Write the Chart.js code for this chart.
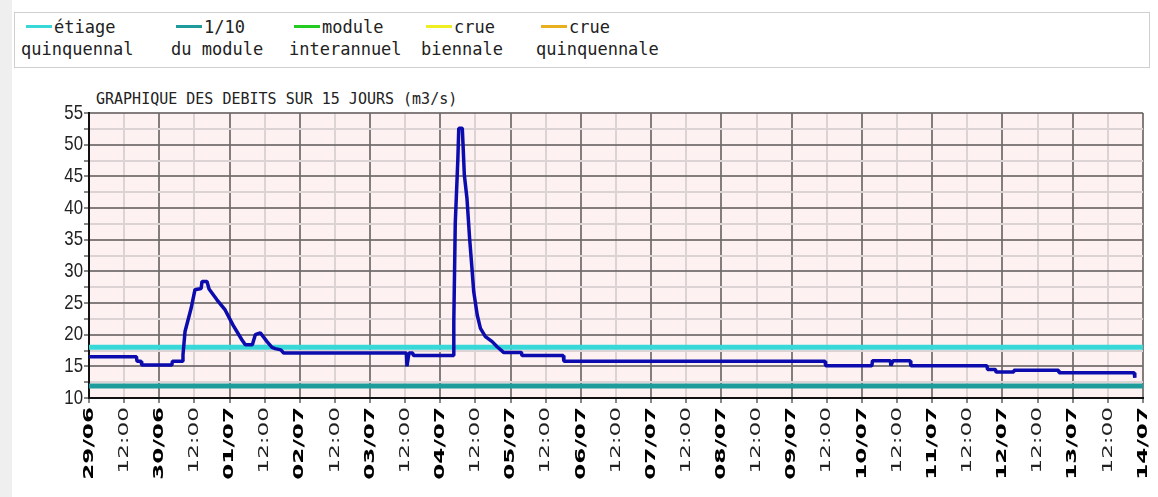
<!DOCTYPE html>
<html>
<head>
<meta charset="utf-8">
<script src="https://cdn.jsdelivr.net/npm/chart.js@4"></script>
<style>
  body { margin: 0; background: #fff; font-family: "DejaVu Sans Mono", monospace; }
  #page { position: relative; width: 1158px; height: 497px; overflow: hidden; }
  #strip { position: absolute; left: 0; top: 0; width: 12px; height: 497px; background: #efefef; }
  #legend { position: absolute; left: 14px; top: 12px; width: 1134px; height: 54px; border: 1px solid #cfcfcf; background: #fff; }
  .item { position: absolute; top: 3px; font-size: 17px; line-height: 22px; color: #222; white-space: nowrap; }
  .item .l1 { padding-left: 5px; }
  .sw { display: inline-block; width: 26px; height: 3px; vertical-align: middle; margin-right: 2px; position: relative; top: -2px; }
  #title { position: absolute; left: 96px; top: 90px; font-size: 15px; color: #222; white-space: nowrap; }
  canvas { position: absolute; left: 0; top: 0; }
</style>
</head>
<body>
<div id="page">
  <div id="strip"></div>
  <div id="legend"></div>
  <div id="title">GRAPHIQUE DES DEBITS SUR 15 JOURS (m3/s)</div>
  <canvas id="chart" width="1158" height="497"></canvas>
</div>
<script>
// heures depuis le 29/06 00:00 et debits (m3/s)
const hours = [0, 16.2, 16.4, 17.8, 18.0, 28.3, 28.5, 31.9, 32.1, 32.8, 34.9, 36.2, 38.3, 38.6, 40.3, 41.0,
  43.7, 46.5, 49.2, 52.2, 53.4, 55.8, 56.8, 58.5, 60.8, 62.5, 63.6, 65.5, 66.5,
  108.4, 108.6, 109.3, 110.6, 110.8, 124.4, 124.6, 125.1, 126.0, 126.3, 127.5, 127.8, 128.2, 129.1,
  130.0, 130.8, 131.4, 132.6, 133.7, 135.4, 137.7, 139.4, 141.6, 147.7, 147.9, 162.0, 162.2,
  251.4, 251.6, 267.4, 267.6, 273.7, 273.9, 274.6, 280.5, 280.7, 306.7, 306.9, 309.6, 309.8,
  315.7, 315.9, 331.1, 331.3, 357.0, 357.2];
const debits = [16.5, 16.5, 15.8, 15.8, 15.2, 15.2, 15.8, 15.8, 16.8, 20.5, 24.2, 27.1, 27.3, 28.4, 28.4, 27.2,
  25.5, 23.9, 21.5, 19.2, 18.4, 18.4, 20.0, 20.3, 18.9, 18.0, 17.8, 17.6, 17.1,
  17.1, 15.0, 17.1, 17.1, 16.7, 16.7, 22.0, 37.6, 47.9, 52.6, 52.6, 49.5, 45.2, 41.5,
  35.2, 30.5, 26.8, 23.1, 21.0, 19.7, 18.9, 18.1, 17.2, 17.2, 16.7, 16.7, 15.8,
  15.8, 15.1, 15.1, 15.9, 15.9, 15.1, 15.9, 15.9, 15.1, 15.1, 14.5, 14.5, 14.1,
  14.1, 14.4, 14.4, 14.0, 14.0, 13.2];

// seuils de reference
const etiageQuinquennal = 18.0;
const dixiemeModule = 11.9;

// etiquettes
const dayLabels = ['29/06', '30/06', '01/07', '02/07', '03/07', '04/07', '05/07', '06/07',
  '07/07', '08/07', '09/07', '10/07', '11/07', '12/07', '13/07', '14/07'];
const noonLabel = '12:00';
const legendItems = [
  { l1: 'étiage', l2: 'quinquennal', color: '#38d8d8', left: 6 },
  { l1: '1/10', l2: 'du module', color: '#1e9c9c', left: 156 },
  { l1: 'module', l2: 'interannuel', color: '#22cc22', left: 274 },
  { l1: 'crue', l2: 'biennale', color: '#eeee22', left: 406 },
  { l1: 'crue', l2: 'quinquennale', color: '#e8b020', left: 521 }
];

// legende HTML
const legendBox = document.getElementById('legend');
legendItems.forEach(it => {
  const d = document.createElement('div');
  d.className = 'item';
  d.style.left = it.left + 'px';
  d.innerHTML = '<div class="l1"><span class="sw" style="background:' + it.color + '"></span>' + it.l1 + '</div><div>' + it.l2 + '</div>';
  legendBox.appendChild(d);
});

const flowPoints = hours.map((h, i) => ({ x: h, y: debits[i] }));
const flat = v => [{ x: 0, y: v }, { x: 360, y: v }];

const plotBg = {
  id: 'plotBg',
  beforeDraw(chart) {
    const { ctx, chartArea: a } = chart;
    ctx.save();
    ctx.fillStyle = '#fdf1f1';
    ctx.fillRect(a.left, a.top, a.right - a.left, a.bottom - a.top);
    ctx.restore();
  }
};

// etiquettes d'axes dessinees a la main (texte etire comme sur l'original)
const axisText = {
  id: 'axisText',
  afterDraw(chart) {
    const { ctx, scales: { x, y } } = chart;
    ctx.save();
    ctx.fillStyle = '#222';
    ctx.textAlign = 'right';
    ctx.textBaseline = 'middle';
    ctx.font = '21px "Liberation Sans"';
    y.ticks.forEach(t => {
      if (t.value % 5 !== 0) return;
      ctx.save();
      ctx.translate(y.right - 6, y.getPixelForValue(t.value));
      ctx.scale(0.8, 1);
      ctx.fillText(String(t.value), 0, 0);
      ctx.restore();
    });
    x.ticks.forEach(t => {
      const isDay = t.value % 24 === 0;
      const label = isDay ? dayLabels[t.value / 24] : noonLabel;
      ctx.save();
      ctx.translate(x.getPixelForValue(t.value), y.bottom + 9);
      ctx.rotate(-Math.PI / 2);
      ctx.scale(1.65, 1);
      ctx.fillStyle = isDay ? '#000' : '#222';
      ctx.font = (isDay ? 'bold ' : '') + '14px "DejaVu Sans"';
      ctx.fillText(label, 0, 0);
      ctx.restore();
    });
    ctx.restore();
  }
};

const darkGrid = 'rgba(110,105,105,0.85)';
const lightGrid = '#dcd4d4';

new Chart(document.getElementById('chart'), {
  type: 'line',
  data: {
    datasets: [
      { label: 'debit', data: flowPoints, borderColor: '#0c0cae', borderWidth: 3.5, pointRadius: 0, tension: 0, fill: false, borderJoinStyle: 'bevel' },
      { label: 'étiage quinquennal', data: flat(etiageQuinquennal), borderColor: '#38d8d8', borderWidth: 5, pointRadius: 0 },
      { label: '1/10 du module', data: flat(dixiemeModule), borderColor: '#1e9c9c', borderWidth: 5, pointRadius: 0 }
    ]
  },
  options: {
    responsive: false,
    animation: false,
    layout: { padding: { left: 84, right: 15, top: 113, bottom: 94 } },
    plugins: { legend: { display: false }, tooltip: { enabled: false }, title: { display: false } },
    scales: {
      x: {
        type: 'linear', min: 0, max: 360,
        ticks: { display: false, stepSize: 12, maxTicksLimit: 100, autoSkip: false },
        grid: {
          color: c => (c.tick && c.tick.value % 24 === 0) ? darkGrid : lightGrid,
          lineWidth: 2, tickLength: 5, tickColor: '#111', tickWidth: 1
        },
        border: { color: '#111', width: 2 }
      },
      y: {
        min: 10, max: 55,
        ticks: { display: false, stepSize: 2.5, maxTicksLimit: 100 },
        grid: {
          color: c => (c.tick && c.tick.value % 5 === 0) ? darkGrid : lightGrid,
          lineWidth: 2, tickLength: 5, tickColor: '#111', tickWidth: 1
        },
        border: { color: '#111', width: 2 }
      }
    }
  },
  plugins: [plotBg, axisText]
});
</script>
</body>
</html>
